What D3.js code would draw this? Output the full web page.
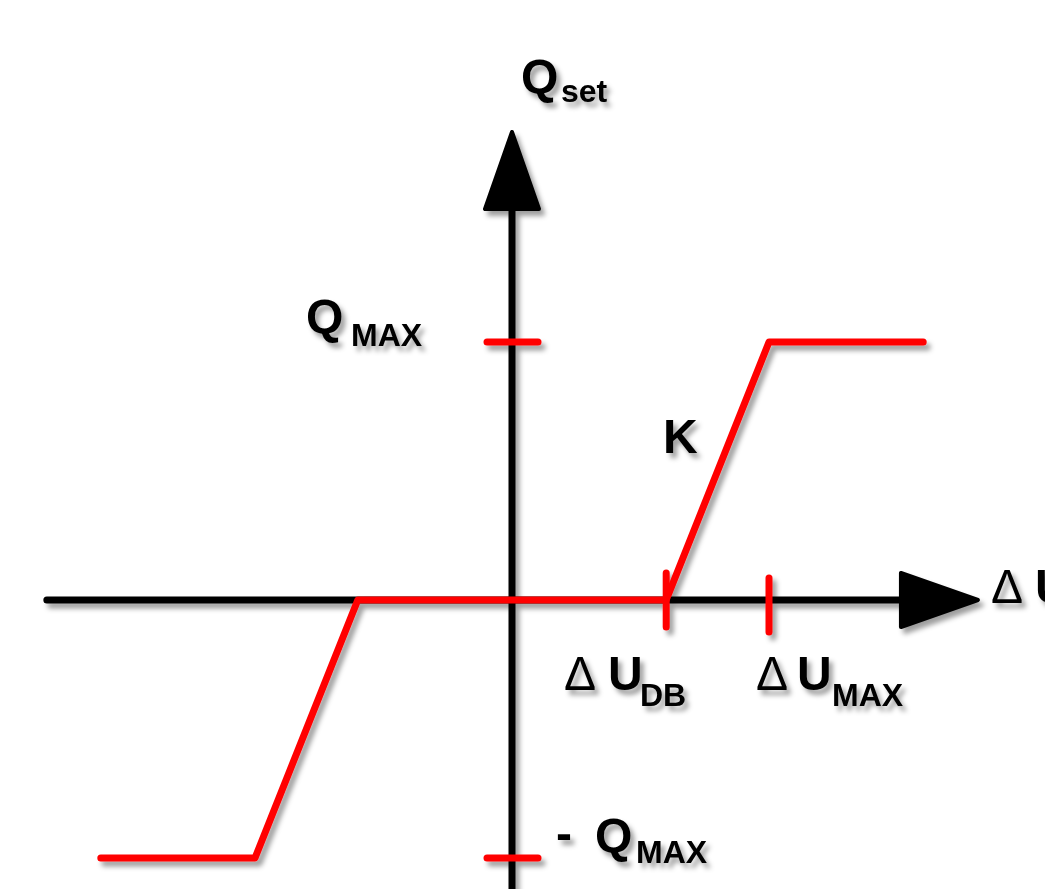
<!DOCTYPE html>
<html>
<head>
<meta charset="utf-8">
<script src="https://cdn.jsdelivr.net/npm/d3@7"></script>
<style>
  html, body { margin: 0; padding: 0; background: #fff; }
  svg { display: block; }
  text { font-family: "Liberation Sans", Arial, sans-serif; font-weight: bold; fill: #000; }
  tspan.delta { font-weight: normal; }
</style>
</head>
<body>
<script>
// ---- data ----
const curveX = [-1.6, -1.0, -0.6, 0.6, 1.0, 1.6];   // ΔU (normalised to ΔU_MAX)
const curveY = [-1, -1, 0, 0, 1, 1];                // Q_set (normalised to Q_MAX)
const xTickValues = [0.6, 1.0];                     // ΔU_DB, ΔU_MAX
const xTickSubs = ["DB", "MAX"];
const yTickValues = [1, -1];                        // Q_MAX, -Q_MAX
const axisXExtent = [-1.81, 1.813];
const axisYExtent = [-1.2, 1.814];

const W = 1045, H = 889;
const x = d3.scaleLinear().domain([0, 1]).range([512, 769]);
const y = d3.scaleLinear().domain([0, 1]).range([600, 342]);

const svg = d3.select("body").append("svg").attr("width", W).attr("height", H);
const defs = svg.append("defs");
const f = defs.append("filter").attr("id", "sh")
  .attr("x", "-20%").attr("y", "-20%").attr("width", "140%").attr("height", "140%");
f.append("feDropShadow").attr("dx", 4).attr("dy", 5).attr("stdDeviation", 2.5)
  .attr("flood-color", "#000").attr("flood-opacity", 0.38);

const g = svg.append("g").attr("filter", "url(#sh)");

const SW = 7, ARROW_LEN = 77, ARROW_HALF = 27;

// x axis
const xTip = x(axisXExtent[1]);
g.append("line")
  .attr("x1", x(axisXExtent[0])).attr("x2", xTip - ARROW_LEN + 2)
  .attr("y1", y(0)).attr("y2", y(0))
  .attr("stroke", "#000").attr("stroke-width", SW).attr("stroke-linecap", "round");
g.append("path")
  .attr("d", d3.line()([[xTip, y(0)], [xTip - ARROW_LEN, y(0) - ARROW_HALF], [xTip - ARROW_LEN, y(0) + ARROW_HALF]]) + "Z")
  .attr("fill", "#000").attr("stroke", "#000").attr("stroke-width", 4).attr("stroke-linejoin", "round");

// y axis
const yTip = y(axisYExtent[1]);
g.append("line")
  .attr("x1", x(0)).attr("x2", x(0))
  .attr("y1", y(axisYExtent[0])).attr("y2", yTip + ARROW_LEN - 2)
  .attr("stroke", "#000").attr("stroke-width", SW).attr("stroke-linecap", "round");
g.append("path")
  .attr("d", d3.line()([[x(0), yTip], [x(0) - ARROW_HALF, yTip + ARROW_LEN], [x(0) + ARROW_HALF, yTip + ARROW_LEN]]) + "Z")
  .attr("fill", "#000").attr("stroke", "#000").attr("stroke-width", 4).attr("stroke-linejoin", "round");

// y ticks (red)
g.selectAll(".ytick").data(yTickValues).join("line")
  .attr("x1", x(0) - 25).attr("x2", x(0) + 26)
  .attr("y1", d => y(d)).attr("y2", d => y(d))
  .attr("stroke", "#ff0000").attr("stroke-width", SW).attr("stroke-linecap", "round");

// x ticks (red)
const tickShift = [0, 5];
g.selectAll(".xtick").data(xTickValues).join("line")
  .attr("x1", d => x(d)).attr("x2", d => x(d))
  .attr("y1", (d, i) => y(0) - 27 + tickShift[i]).attr("y2", (d, i) => y(0) + 27 + tickShift[i])
  .attr("stroke", "#ff0000").attr("stroke-width", SW).attr("stroke-linecap", "round");

// characteristic curve
g.append("path")
  .datum(curveX.map((v, i) => [v, curveY[i]]))
  .attr("d", d3.line().x(d => x(d[0])).y(d => y(d[1])))
  .attr("fill", "none").attr("stroke", "#ff0000").attr("stroke-width", SW)
  .attr("stroke-linecap", "round").attr("stroke-linejoin", "round");

// ---- labels ----
const BIG = 48, SUB = 32;
function label(parts) {
  const t = g.append("text");
  parts.forEach(p => {
    t.append("tspan").attr("x", p.x).attr("y", p.y)
      .attr("class", p.t === "Δ" ? "delta" : null)
      .attr("font-size", p.s).text(p.t);
  });
}
// Q_set
label([{t: "Q", x: 521, y: 93, s: BIG}, {t: "set", x: 561, y: 102, s: SUB}]);
// Q_MAX
label([{t: "Q", x: x(0) - 206, y: y(yTickValues[0]) - 9, s: BIG}, {t: "MAX", x: x(0) - 161, y: y(yTickValues[0]) + 4, s: SUB}]);
// - Q_MAX
label([{t: "-", x: x(0) + 44, y: y(yTickValues[1]) - 8, s: BIG},
       {t: "Q", x: x(0) + 83, y: y(yTickValues[1]) - 6, s: BIG},
       {t: "MAX", x: x(0) + 124, y: y(yTickValues[1]) + 5, s: SUB}]);
// ΔU_DB, ΔU_MAX
const xLabelPos = [{d: 564, u: 608, s: 640}, {d: 756, u: 797, s: 832}];
xTickValues.forEach((v, i) => {
  const p = xLabelPos[i];
  label([{t: "Δ", x: p.d, y: y(0) + 90, s: BIG},
         {t: "U", x: p.u, y: y(0) + 90, s: BIG},
         {t: xTickSubs[i], x: p.s, y: y(0) + 106, s: SUB}]);
});
// ΔU axis title
label([{t: "Δ", x: 991, y: y(0) + 3, s: BIG}, {t: "U", x: 1035, y: y(0) + 3, s: BIG}]);
// K
label([{t: "K", x: 663, y: 453, s: BIG}]);
</script>
</body>
</html>
